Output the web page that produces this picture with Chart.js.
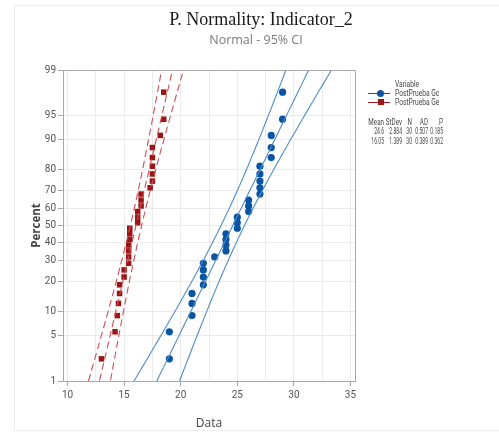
<!DOCTYPE html>
<html>
<head>
<meta charset="utf-8">
<script src="https://cdn.jsdelivr.net/npm/chart.js@4.4.0/dist/chart.umd.min.js"></script>
<style>
  html, body { margin: 0; padding: 0; background: #fff; }
  #wrap { position: relative; width: 499px; height: 435px; overflow: hidden; }
  #frame { position: absolute; left: 14px; top: 5px; right: -2px; bottom: 4px; border-left: 1px solid #ececec; border-top: 1px solid #ececec; border-bottom: 1px solid #ececec; }
  canvas { position: absolute; left: 0; top: 0; }
  .title { position: absolute; left: 0; width: 522px; top: 9px; text-align: center; font-family: "Liberation Serif", serif; font-size: 18px; color: #1a1a1a; }
  .subtitle { position: absolute; left: 0; width: 512px; top: 31px; text-align: center; font-family: "Open Sans", sans-serif; font-size: 12.5px; color: #7a7a7a; }
  .small { position: absolute; font-family: Roboto, sans-serif; font-size: 9px; color: #444; white-space: nowrap; line-height: 10px; transform: scaleX(0.74); transform-origin: left center; }
  .num { text-align: right; font-size: 8.7px; transform: scaleX(0.72); transform-origin: right center; }
  .val { transform: scaleX(0.58); }
  .lgline { position: absolute; height: 1px; width: 22px; left: 368px; }
  .dot { position: absolute; width: 7px; height: 7px; border-radius: 50%; background: #0a55a3; }
  .sq { position: absolute; width: 6px; height: 6px; background: #9b1416; }
</style>
</head>
<body>
<div id="wrap">
  <div id="frame"></div>
  <canvas id="chart" width="499" height="435"></canvas>
  <div class="title">P. Normality: Indicator_2</div>
  <div class="subtitle">Normal - 95% CI</div>
  <div id="legend"></div>
</div>
<script>
// ==============================
// DATA
// ==============================
const seriesNames = ["PostPrueba Gc", "PostPrueba Ge"];

// sorted sample values
const gcData = [19, 19, 21, 21, 21, 22, 22, 22, 22, 23, 24, 24, 24, 24, 25,
  25, 25, 26, 26, 26, 27, 27, 27, 27, 27, 28, 28, 28, 29, 29];
const geData = [13.0, 14.2, 14.4, 14.5, 14.6, 14.6, 15.0, 15.0, 15.4, 15.4,
  15.4, 15.4, 15.5, 15.5, 15.5, 16.2, 16.2, 16.2, 16.5, 16.5, 16.5, 17.3,
  17.5, 17.5, 17.5, 17.5, 17.5, 18.2, 18.5, 18.5];

// summary table shown next to the plot
const statHeaders = ["Mean", "StDev", "N", "AD", "P"];
const statMeans = [24.6, 16.05];
const statStdevs = [2.884, 1.389];
const statN = [30, 30];
const statAD = ["0.507", "0.389"];
const statP = ["0.185", "0.362"];

const percentTicks = [1, 5, 10, 20, 30, 40, 50, 60, 70, 80, 90, 95, 99];
const xTicks = [10, 12.5, 15, 17.5, 20, 22.5, 25, 27.5, 30, 32.5, 35];

// ==============================
// HELPERS
// ==============================
// inverse of the standard normal cdf (Acklam)
function zOf(p) {
  const a = [-39.69683028665376, 220.9460984245205, -275.9285104469687, 138.3577518672690, -30.66479806614716, 2.506628277459239];
  const b = [-54.47609879822406, 161.5858368580409, -155.6989798598866, 66.80131188771972, -13.28068155288572];
  const c = [-0.007784894002430293, -0.3223964580411365, -2.400758277161838, -2.549732539343734, 4.374664141464968, 2.938163982698783];
  const d = [0.007784695709041462, 0.3224671290700398, 2.445134137142996, 3.754408661907416];
  const pl = 0.02425;
  let q, r;
  if (p < pl) {
    q = Math.sqrt(-2 * Math.log(p));
    return (((((c[0]*q+c[1])*q+c[2])*q+c[3])*q+c[4])*q+c[5]) / ((((d[0]*q+d[1])*q+d[2])*q+d[3])*q+1);
  }
  if (p > 1 - pl) {
    q = Math.sqrt(-2 * Math.log(1 - p));
    return -(((((c[0]*q+c[1])*q+c[2])*q+c[3])*q+c[4])*q+c[5]) / ((((d[0]*q+d[1])*q+d[2])*q+d[3])*q+1);
  }
  q = p - 0.5; r = q * q;
  return (((((a[0]*r+a[1])*r+a[2])*r+a[3])*r+a[4])*r+a[5])*q / (((((b[0]*r+b[1])*r+b[2])*r+b[3])*r+b[4])*r+1);
}

// median rank plotting positions
function probPoints(values) {
  const n = values.length;
  return values.map((v, i) => ({ x: v, y: zOf((i + 1 - 0.3) / (n + 0.4)) }));
}

// fitted line and 95% bands
function fitLine(mean, sd, n, side) {
  const pts = [];
  for (let z = -2.8; z <= 2.81; z += 0.2) {
    const half = 1.96 * sd * Math.sqrt(1 / n + z * z / (2 * (n - 1)));
    pts.push({ x: mean + z * sd + side * half, y: z });
  }
  return pts;
}

// ==============================
// CHART
// ==============================
const blue = "#0a55a3";
const blueLine = "#4f8cc6";
const red = "#9b1416";
const redLine = "#cc4f52";

const datasets = [];
[-1, 0, 1].forEach(s => {
  datasets.push({
    type: "line", data: fitLine(statMeans[0], statStdevs[0], statN[0], s),
    borderColor: blueLine, borderWidth: 1.1, pointRadius: 0, tension: 0.3
  });
  datasets.push({
    type: "line", data: fitLine(statMeans[1], statStdevs[1], statN[1], s),
    borderColor: redLine, borderWidth: 1.1, borderDash: [7, 4], pointRadius: 0, tension: 0.3
  });
});
datasets.push({
  label: seriesNames[0], data: probPoints(gcData),
  pointStyle: "circle", pointRadius: 3.6, backgroundColor: blue, borderColor: blue, borderWidth: 0
});
datasets.push({
  label: seriesNames[1], data: probPoints(geData),
  pointStyle: "rect", pointRadius: 3.9, backgroundColor: red, borderColor: red, borderWidth: 0
});

const tickFont = { family: "Roboto, sans-serif", size: 10 };
const axisGray = "#a8a8a8";

const framePlugin = {
  id: "frame",
  afterDraw(chart) {
    const { ctx, chartArea: a } = chart;
    ctx.save();
    ctx.strokeStyle = axisGray;
    ctx.lineWidth = 1;
    ctx.beginPath();
    ctx.moveTo(a.left, a.top + 0.5);
    ctx.lineTo(a.right + 0.5, a.top + 0.5);
    ctx.lineTo(a.right + 0.5, a.bottom);
    ctx.stroke();
    ctx.restore();
  }
};

new Chart(document.getElementById("chart"), {
  type: "scatter",
  data: { datasets },
  plugins: [framePlugin],
  options: {
    responsive: false,
    animation: false,
    layout: { padding: { left: 0, right: 144, top: 70, bottom: 0 } },
    plugins: { legend: { display: false }, tooltip: { enabled: false } },
    scales: {
      x: {
        type: "linear", min: 9.6, max: 35.4,
        afterBuildTicks: s => { s.ticks = xTicks.map(v => ({ value: v })); },
        afterFit: s => { s.height = 54; },
        ticks: {
          autoSkip: false, maxRotation: 0, padding: 3, color: "#555", font: tickFont,
          callback: v => (v % 5 === 0 ? v : "")
        },
        grid: {
          color: "#ebebeb", tickLength: 5,
          tickColor: c => (c.tick && c.tick.value % 5 === 0 ? axisGray : "rgba(0,0,0,0)")
        },
        border: { color: axisGray },
        title: {
          display: true, text: "Data", color: "#444",
          font: { family: "'Open Sans', sans-serif", size: 12 }, padding: { top: 0, bottom: 4 }
        }
      },
      y: {
        type: "linear", min: zOf(0.01), max: zOf(0.99),
        afterBuildTicks: s => { s.ticks = percentTicks.map(p => ({ value: zOf(p / 100) })); },
        afterFit: s => { s.width = 63; },
        ticks: {
          autoSkip: false, padding: 2, color: "#555", font: tickFont,
          callback: (v, i) => percentTicks[i]
        },
        grid: { color: "#ebebeb", tickLength: 5, tickColor: axisGray },
        border: { color: axisGray },
        title: {
          display: true, text: "Percent", color: "#444",
          font: { family: "'Open Sans', sans-serif", size: 11.5, weight: "bold" }, padding: { top: 30, bottom: 0 }
        }
      }
    }
  }
});

// ==============================
// LEGEND + STATS (html text)
// ==============================
const legend = document.getElementById("legend");
let html = `<div class="small" style="left:395px;top:79px">Variable</div>`;
html += `<div class="lgline" style="top:93px;background:${blue}"></div><div class="dot" style="left:377px;top:90px"></div>`;
html += `<div class="small" style="left:395px;top:88px">${seriesNames[0]}</div>`;
html += `<div class="lgline" style="top:102px;background:${red}"></div><div class="sq" style="left:378px;top:99px"></div>`;
html += `<div class="small" style="left:395px;top:97px">${seriesNames[1]}</div>`;

const colRight = [384, 402, 411.5, 428, 443];
const rows = [statHeaders];
for (let i = 0; i < 2; i++) {
  rows.push([String(statMeans[i]), statStdevs[i].toFixed(3), String(statN[i]), statAD[i], statP[i]]);
}
rows.forEach((row, r) => {
  row.forEach((txt, c) => {
    const cls = r === 0 ? "small num" : "small num val";
    html += `<div class="${cls}" style="left:${colRight[c] - 40}px;width:40px;top:${117 + r * 9.3}px">${txt}</div>`;
  });
});
legend.innerHTML = html;
</script>
</body>
</html>
